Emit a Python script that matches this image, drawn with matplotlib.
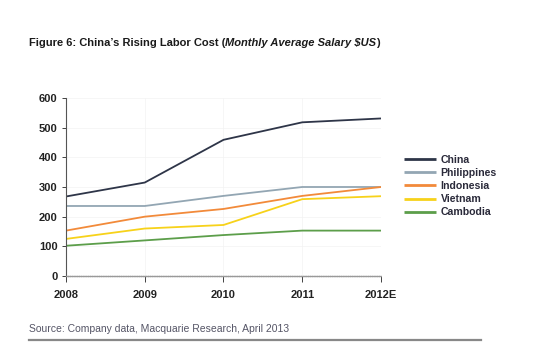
import matplotlib.pyplot as plt
import numpy as np

years = ["2008", "2009", "2010", "2011", "2012E"]
countries = ["China", "Philippines", "Indonesia", "Vietnam", "Cambodia"]
china = [268, 315, 459, 518, 531]
philippines = [236, 236, 270, 300, 300]
indonesia = [153, 200, 226, 270, 300]
vietnam = [125, 160, 172, 259, 269]
cambodia = [102, 120, 138, 153, 153]
series = [china, philippines, indonesia, vietnam, cambodia]
colors = ["#2e3548", "#93a6b3", "#f28a3a", "#f7d21a", "#5c9e4a"]

plt.rcParams["font.family"] = ["Liberation Sans", "DejaVu Sans"]

fig = plt.figure(figsize=(5.49, 3.55), dpi=100)
ax = fig.add_axes([0.1202, 0.2225, 0.5738, 0.5015])

x = np.arange(len(years))
for vals, name, c in zip(series, countries, colors):
    ax.plot(x, vals, color=c, lw=1.3, label=name, solid_capstyle="butt")

ax.set_xlim(0, 4)
ax.set_ylim(0, 600)
ax.set_xticks(x)
ax.set_xticklabels(years, fontsize=8, fontweight="bold", color="#222222")
ax.set_yticks(range(0, 601, 100))
ax.tick_params(axis="y", labelsize=8, colors="#222222", length=3, width=0.6, pad=3)
ax.tick_params(axis="x", length=4, width=0.6, pad=6, colors="#222222")
for lab in ax.get_yticklabels():
    lab.set_fontweight("bold")

ax.grid(True, color="#f3f3f3", lw=0.5)
ax.set_axisbelow(True)
for s in ["top", "right"]:
    ax.spines[s].set_visible(False)
ax.spines["left"].set_color("#555555")
ax.spines["left"].set_linewidth(0.8)
ax.spines["bottom"].set_color("#999999")
ax.spines["bottom"].set_linewidth(1.0)
ax.spines["bottom"].set_linestyle((0, (1, 0.6)))

leg = ax.legend(loc="center left", bbox_to_anchor=(1.06, 0.505), frameon=False,
                fontsize=7.6, handlelength=3.0, handletextpad=0.45,
                labelspacing=0.3, borderaxespad=0)
for t in leg.get_texts():
    t.set_color("#2a2a3a")
    t.set_fontweight("semibold")
for h in leg.get_lines():
    h.set_linewidth(2.0)

# title: bold part + bold italic part
ty = 1 - 43 / 355
t1 = fig.text(29 / 549, ty, "Figure 6: China\u2019s Rising Labor Cost (",
              fontsize=8, fontweight="bold", color="#1a1a1a", va="center")
fig.canvas.draw()
bb = t1.get_window_extent()
t2 = fig.text(bb.x1 / fig.bbox.width, ty, "Monthly Average Salary $US",
              fontsize=8, fontweight="bold", style="italic", color="#1a1a1a", va="center")
fig.canvas.draw()
bb2 = t2.get_window_extent()
fig.text(bb2.x1 / fig.bbox.width, ty, ")",
         fontsize=8, fontweight="bold", color="#1a1a1a", va="center")

fig.text(29 / 549, 1 - 329 / 355, "Source: Company data, Macquarie Research, April 2013",
         fontsize=7.5, color="#555566", va="center")
fig.add_artist(plt.Line2D([29 / 549, 481 / 549], [1 - 340 / 355] * 2,
                          transform=fig.transFigure, color="#888888", lw=1.6))

fig.savefig("out.png", dpi=100)
